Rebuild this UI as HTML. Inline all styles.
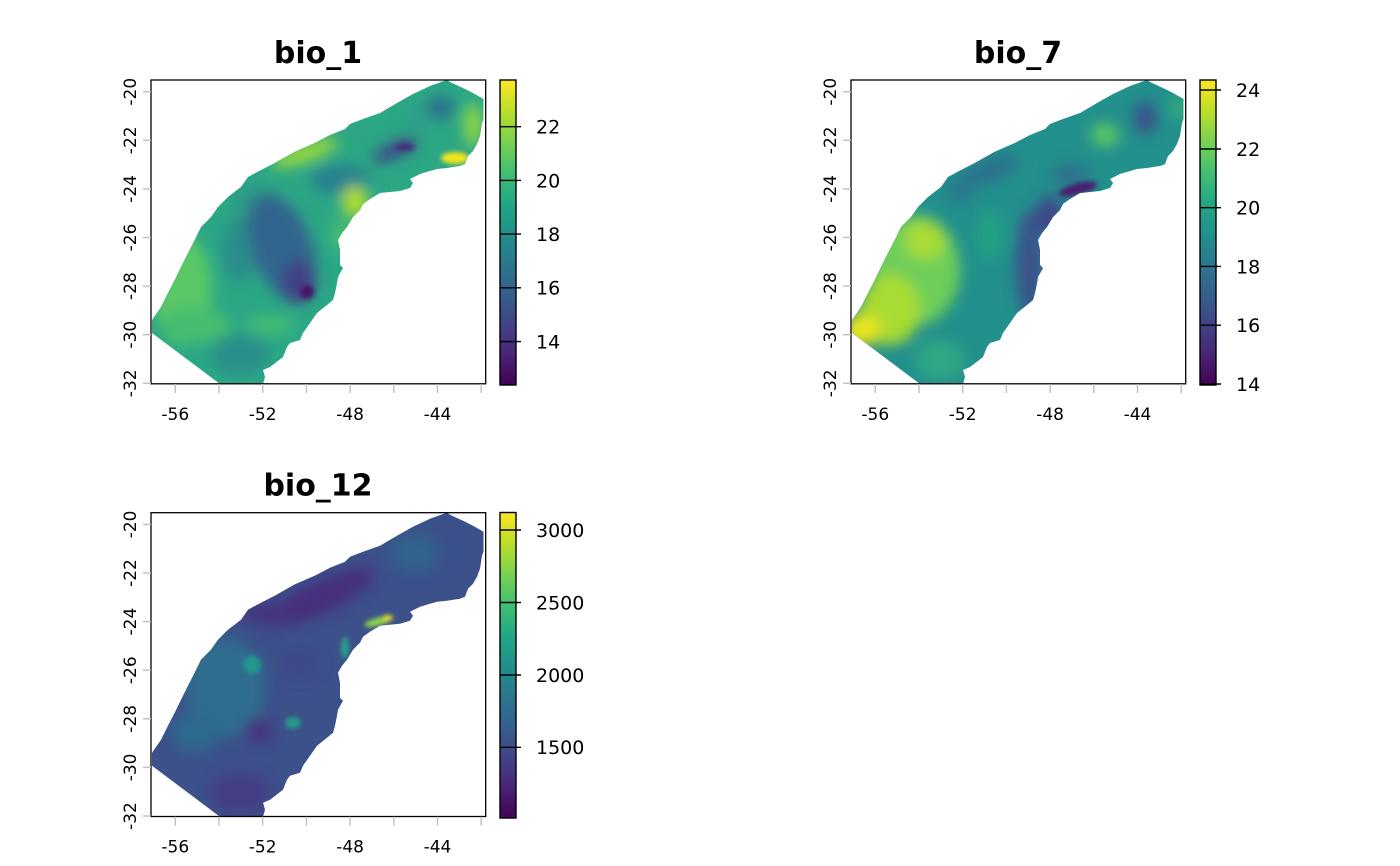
<!DOCTYPE html>
<html><head><meta charset="utf-8"><style>
html,body{margin:0;padding:0;background:#fff;}
svg{display:block;}
text{font-family:"DejaVu Sans","Liberation Sans",sans-serif;fill:#000;}
.t{font-size:30px;font-weight:bold;text-anchor:middle;}
.ax{font-size:17px;text-anchor:middle;}
.cb{font-size:19px;}
.tk{stroke:#c0c0c0;stroke-width:1.4;}
.ct{stroke:#000;stroke-width:1.4;}
</style></head><body>
<svg width="1400" height="866" viewBox="0 0 1400 866" xmlns="http://www.w3.org/2000/svg">
<defs>
<clipPath id="shape" clipPathUnits="userSpaceOnUse">
<polygon points="446.7,80 452,83 463,88 473,93 483.5,99 483.5,119 482,123 480,136 477,144 473,151 468,156 465,164 460,166 447,168 437,169 430,171 420,174 410,179 413,183 410,188 400,191 380,193 370,199 363,204 360,210 353,217 347,227 342,233 338,240 340,250 340,265 343,268 338,277 337,283 335,293 333,300 327,305 317,313 310,323 303,333 300,340 290,343 287,347 283,357 270,367 263,370 265,377 263,384 220,384 152,333 152,320 161,307 168,293 174.7,280 181,267 188,253 194.7,240 201,227 211,217 218,207 228,197 241,187 248,177 261,170 274.7,163 294.7,151.7 314.7,143 330,135 345,129 350,124 363,119 380,113 397,103 413,94 430,86"/>
</clipPath>
<filter id="bl" filterUnits="userSpaceOnUse" x="100" y="40" width="450" height="400"><feGaussianBlur stdDeviation="7"/></filter>
<filter id="bs" filterUnits="userSpaceOnUse" x="100" y="40" width="450" height="400"><feGaussianBlur stdDeviation="2.5"/></filter>
<linearGradient id="vir" x1="0" y1="1" x2="0" y2="0">
<stop offset="0" stop-color="#440154"/><stop offset="0.1" stop-color="#482576"/><stop offset="0.2" stop-color="#414487"/><stop offset="0.3" stop-color="#35608d"/><stop offset="0.4" stop-color="#2a788e"/><stop offset="0.5" stop-color="#21908c"/><stop offset="0.6" stop-color="#22a884"/><stop offset="0.7" stop-color="#43bf71"/><stop offset="0.8" stop-color="#7ad151"/><stop offset="0.9" stop-color="#bbdf27"/><stop offset="1" stop-color="#fde725"/>
</linearGradient>
</defs>

<!-- ============ PANEL 1 map ============ -->
<g clip-path="url(#shape)">
<rect x="140" y="70" width="360" height="330" fill="#2ba785"/>
<g filter="url(#bl)">
<ellipse cx="182" cy="290" rx="30" ry="55" fill="#5ac766"/>
<ellipse cx="195" cy="325" rx="35" ry="18" fill="#45bd70"/>
<ellipse cx="250" cy="200" rx="22" ry="18" fill="#2a9d87"/>
<ellipse cx="240" cy="250" rx="18" ry="32" fill="#2b8d8b"/>
<ellipse cx="282" cy="248" rx="30" ry="58" transform="rotate(-22 282 248)" fill="#32658e"/>
<ellipse cx="298" cy="282" rx="16" ry="22" fill="#424087"/>
<ellipse cx="305" cy="153" rx="35" ry="9" transform="rotate(-20 305 153)" fill="#9ad93c"/>
<ellipse cx="340" cy="180" rx="30" ry="15" fill="#26828e"/>
<ellipse cx="395" cy="150" rx="25" ry="8" transform="rotate(-25 395 150)" fill="#3e4a89"/>
<ellipse cx="355" cy="202" rx="13" ry="16" fill="#b0dd2f"/>
<ellipse cx="340" cy="235" rx="8" ry="15" fill="#4fc16b"/>
<ellipse cx="473" cy="125" rx="9" ry="22" fill="#8fd744"/>
<ellipse cx="440" cy="108" rx="15" ry="12" fill="#2c718e"/>
<ellipse cx="420" cy="120" rx="15" ry="10" fill="#2f9f88"/>
<ellipse cx="240" cy="355" rx="30" ry="20" fill="#2a8f8b"/>
<ellipse cx="270" cy="325" rx="25" ry="10" fill="#40bb73"/>
</g>
<g filter="url(#bs)">
<ellipse cx="307" cy="292" rx="7" ry="7" fill="#46126a"/>
<ellipse cx="405" cy="147" rx="10" ry="4" fill="#46307e"/>
<ellipse cx="455" cy="158" rx="14" ry="6" fill="#f1e51d"/>
</g>
</g>

<!-- ============ PANEL 2 map ============ -->
<g transform="translate(700,0)">
<g clip-path="url(#shape)">
<rect x="140" y="70" width="360" height="330" fill="#22908c"/>
<g filter="url(#bl)">
<ellipse cx="215" cy="270" rx="45" ry="55" fill="#6ece58"/>
<ellipse cx="190" cy="310" rx="30" ry="35" fill="#a9dc33"/>
<ellipse cx="225" cy="240" rx="20" ry="20" fill="#a8db34"/>
<ellipse cx="162" cy="330" rx="18" ry="16" fill="#eae51a"/>
<ellipse cx="330" cy="265" rx="14" ry="55" fill="#3b528b"/>
<ellipse cx="350" cy="215" rx="14" ry="20" fill="#3e4a89"/>
<ellipse cx="290" cy="170" rx="30" ry="12" transform="rotate(-20 290 170)" fill="#2c728e"/>
<ellipse cx="405" cy="135" rx="14" ry="12" fill="#5cc863"/>
<ellipse cx="445" cy="118" rx="12" ry="16" fill="#3b528b"/>
<ellipse cx="478" cy="108" rx="6" ry="12" fill="#3db574"/>
<ellipse cx="240" cy="360" rx="25" ry="20" fill="#2fa885"/>
<ellipse cx="290" cy="235" rx="15" ry="25" fill="#23a085"/>
<ellipse cx="260" cy="190" rx="15" ry="12" fill="#2a788e"/>
<ellipse cx="370" cy="175" rx="20" ry="10" fill="#2d6f8e"/>
</g>
<g filter="url(#bs)">
<ellipse cx="378" cy="189" rx="20" ry="6" transform="rotate(-15 378 189)" fill="#46246f"/>
</g>
</g>
</g>

<!-- ============ PANEL 3 map ============ -->
<g transform="translate(0,432.7)">
<g clip-path="url(#shape)">
<rect x="140" y="70" width="360" height="330" fill="#3c508a"/>
<g filter="url(#bl)">
<ellipse cx="320" cy="165" rx="60" ry="16" transform="rotate(-25 320 165)" fill="#472f7d"/>
<ellipse cx="265" cy="180" rx="25" ry="12" fill="#453581"/>
<ellipse cx="225" cy="255" rx="40" ry="50" fill="#2e6d8e"/>
<ellipse cx="195" cy="300" rx="25" ry="20" fill="#2f698e"/>
<ellipse cx="258" cy="298" rx="14" ry="12" fill="#45337f"/>
<ellipse cx="415" cy="120" rx="25" ry="20" fill="#33628d"/>
<ellipse cx="240" cy="360" rx="30" ry="20" fill="#443d85"/>
<ellipse cx="300" cy="230" rx="20" ry="15" fill="#3e4a89"/>
</g>
<g filter="url(#bs)">
<ellipse cx="252" cy="232" rx="9" ry="9" fill="#22968b"/>
<ellipse cx="293" cy="290" rx="8" ry="6" fill="#24998a"/>
<ellipse cx="345" cy="215" rx="4" ry="11" fill="#2a9f87"/>
<ellipse cx="378" cy="189" rx="14" ry="4" transform="rotate(-15 378 189)" fill="#8ed645"/>
<ellipse cx="388" cy="185" rx="5" ry="3" fill="#e8e41b"/>
</g>
</g>
</g>

<!-- ============ AXES (panel 1) ============ -->
<g>
<text class="t" x="318" y="63">bio_1</text>
<rect x="151" y="80" width="334.7" height="303.8" fill="none" stroke="#000" stroke-width="1.3"/>
<g class="tk">
<line x1="175.3" y1="384" x2="175.3" y2="393"/><line x1="219" y1="384" x2="219" y2="393"/><line x1="262.7" y1="384" x2="262.7" y2="393"/><line x1="306.4" y1="384" x2="306.4" y2="393"/><line x1="350.1" y1="384" x2="350.1" y2="393"/><line x1="393.8" y1="384" x2="393.8" y2="393"/><line x1="437.5" y1="384" x2="437.5" y2="393"/><line x1="481.2" y1="384" x2="481.2" y2="393"/>
<line x1="143" y1="91.7" x2="151" y2="91.7"/><line x1="143" y1="140.3" x2="151" y2="140.3"/><line x1="143" y1="188.9" x2="151" y2="188.9"/><line x1="143" y1="237.5" x2="151" y2="237.5"/><line x1="143" y1="286.1" x2="151" y2="286.1"/><line x1="143" y1="334.7" x2="151" y2="334.7"/><line x1="143" y1="383.3" x2="151" y2="383.3"/>
</g>
<text class="ax" x="175.3" y="420">-56</text><text class="ax" x="262.7" y="420">-52</text><text class="ax" x="350.1" y="420">-48</text><text class="ax" x="437.5" y="420">-44</text>
<text class="ax" transform="translate(136,91.7) rotate(-90)">-20</text>
<text class="ax" transform="translate(136,140.3) rotate(-90)">-22</text>
<text class="ax" transform="translate(136,188.9) rotate(-90)">-24</text>
<text class="ax" transform="translate(136,237.5) rotate(-90)">-26</text>
<text class="ax" transform="translate(136,286.1) rotate(-90)">-28</text>
<text class="ax" transform="translate(136,334.7) rotate(-90)">-30</text>
<text class="ax" transform="translate(136,383.3) rotate(-90)">-32</text>
</g>

<!-- ============ AXES (panel 2) ============ -->
<g transform="translate(700,0)">
<text class="t" x="318" y="63">bio_7</text>
<rect x="151" y="80" width="334.7" height="303.8" fill="none" stroke="#000" stroke-width="1.3"/>
<g class="tk">
<line x1="175.3" y1="384" x2="175.3" y2="393"/><line x1="219" y1="384" x2="219" y2="393"/><line x1="262.7" y1="384" x2="262.7" y2="393"/><line x1="306.4" y1="384" x2="306.4" y2="393"/><line x1="350.1" y1="384" x2="350.1" y2="393"/><line x1="393.8" y1="384" x2="393.8" y2="393"/><line x1="437.5" y1="384" x2="437.5" y2="393"/><line x1="481.2" y1="384" x2="481.2" y2="393"/>
<line x1="143" y1="91.7" x2="151" y2="91.7"/><line x1="143" y1="140.3" x2="151" y2="140.3"/><line x1="143" y1="188.9" x2="151" y2="188.9"/><line x1="143" y1="237.5" x2="151" y2="237.5"/><line x1="143" y1="286.1" x2="151" y2="286.1"/><line x1="143" y1="334.7" x2="151" y2="334.7"/><line x1="143" y1="383.3" x2="151" y2="383.3"/>
</g>
<text class="ax" x="175.3" y="420">-56</text><text class="ax" x="262.7" y="420">-52</text><text class="ax" x="350.1" y="420">-48</text><text class="ax" x="437.5" y="420">-44</text>
<text class="ax" transform="translate(136,91.7) rotate(-90)">-20</text>
<text class="ax" transform="translate(136,140.3) rotate(-90)">-22</text>
<text class="ax" transform="translate(136,188.9) rotate(-90)">-24</text>
<text class="ax" transform="translate(136,237.5) rotate(-90)">-26</text>
<text class="ax" transform="translate(136,286.1) rotate(-90)">-28</text>
<text class="ax" transform="translate(136,334.7) rotate(-90)">-30</text>
<text class="ax" transform="translate(136,383.3) rotate(-90)">-32</text>
</g>

<!-- ============ AXES (panel 3) ============ -->
<g transform="translate(0,432.7)">
<text class="t" x="318" y="63">bio_12</text>
<rect x="151" y="80" width="334.7" height="303.8" fill="none" stroke="#000" stroke-width="1.3"/>
<g class="tk">
<line x1="175.3" y1="384" x2="175.3" y2="393"/><line x1="219" y1="384" x2="219" y2="393"/><line x1="262.7" y1="384" x2="262.7" y2="393"/><line x1="306.4" y1="384" x2="306.4" y2="393"/><line x1="350.1" y1="384" x2="350.1" y2="393"/><line x1="393.8" y1="384" x2="393.8" y2="393"/><line x1="437.5" y1="384" x2="437.5" y2="393"/><line x1="481.2" y1="384" x2="481.2" y2="393"/>
<line x1="143" y1="91.7" x2="151" y2="91.7"/><line x1="143" y1="140.3" x2="151" y2="140.3"/><line x1="143" y1="188.9" x2="151" y2="188.9"/><line x1="143" y1="237.5" x2="151" y2="237.5"/><line x1="143" y1="286.1" x2="151" y2="286.1"/><line x1="143" y1="334.7" x2="151" y2="334.7"/><line x1="143" y1="383.3" x2="151" y2="383.3"/>
</g>
<text class="ax" x="175.3" y="420">-56</text><text class="ax" x="262.7" y="420">-52</text><text class="ax" x="350.1" y="420">-48</text><text class="ax" x="437.5" y="420">-44</text>
<text class="ax" transform="translate(136,91.7) rotate(-90)">-20</text>
<text class="ax" transform="translate(136,140.3) rotate(-90)">-22</text>
<text class="ax" transform="translate(136,188.9) rotate(-90)">-24</text>
<text class="ax" transform="translate(136,237.5) rotate(-90)">-26</text>
<text class="ax" transform="translate(136,286.1) rotate(-90)">-28</text>
<text class="ax" transform="translate(136,334.7) rotate(-90)">-30</text>
<text class="ax" transform="translate(136,383.3) rotate(-90)">-32</text>
</g>

<!-- ============ COLORBARS ============ -->
<rect x="500" y="80" width="16" height="305" fill="url(#vir)" stroke="#000" stroke-width="1.4"/>
<g class="ct">
<line x1="500" y1="126.7" x2="521" y2="126.7"/><line x1="500" y1="180.4" x2="521" y2="180.4"/><line x1="500" y1="234.1" x2="521" y2="234.1"/><line x1="500" y1="287.8" x2="521" y2="287.8"/><line x1="500" y1="341.6" x2="521" y2="341.6"/>
</g>
<text class="cb" x="536" y="133.6">22</text><text class="cb" x="536" y="187.3">20</text><text class="cb" x="536" y="241">18</text><text class="cb" x="536" y="294.7">16</text><text class="cb" x="536" y="348.5">14</text>

<rect x="1200" y="80" width="16" height="305" fill="url(#vir)" stroke="#000" stroke-width="1.4"/>
<g class="ct">
<line x1="1200" y1="90" x2="1221" y2="90"/><line x1="1200" y1="149" x2="1221" y2="149"/><line x1="1200" y1="207.7" x2="1221" y2="207.7"/><line x1="1200" y1="266.4" x2="1221" y2="266.4"/><line x1="1200" y1="325.2" x2="1221" y2="325.2"/><line x1="1200" y1="384" x2="1221" y2="384"/>
</g>
<text class="cb" x="1236" y="96.9">24</text><text class="cb" x="1236" y="155.9">22</text><text class="cb" x="1236" y="214.6">20</text><text class="cb" x="1236" y="273.3">18</text><text class="cb" x="1236" y="332.1">16</text><text class="cb" x="1236" y="390.9">14</text>

<rect x="500" y="512.5" width="16" height="305.5" fill="url(#vir)" stroke="#000" stroke-width="1.4"/>
<g class="ct">
<line x1="500" y1="530" x2="521" y2="530"/><line x1="500" y1="602.5" x2="521" y2="602.5"/><line x1="500" y1="675" x2="521" y2="675"/><line x1="500" y1="747.3" x2="521" y2="747.3"/>
</g>
<text class="cb" x="536" y="536.9">3000</text><text class="cb" x="536" y="609.4">2500</text><text class="cb" x="536" y="681.9">2000</text><text class="cb" x="536" y="754.2">1500</text>
</svg>
</body></html>
